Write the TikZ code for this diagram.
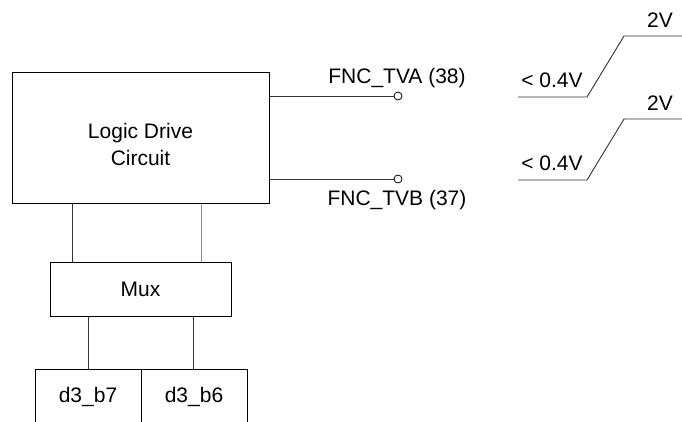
\documentclass[tikz,border=0pt]{standalone}
\usepackage{fontspec}
\setmainfont{Liberation Sans}
\usetikzlibrary{positioning,calc}
\tikzset{
  blk/.style={draw=black,line width=1pt,inner sep=0pt,align=center,fill=white},
  term/.style={circle,draw=black,line width=0.8pt,inner sep=0pt,minimum size=8pt,fill=white},
  wire/.style={draw=black!80,line width=0.9pt},
  lab/.style={inner sep=0pt,anchor=center},
}
\begin{document}
\begin{tikzpicture}[x=1pt,y=-1pt,every node/.style={font=\fontsize{21}{27}\selectfont}]
\clip (0,0) rectangle (682,421);
\node[blk,minimum width=257pt,minimum height=131pt] (ldc) at (140.5,137.5) {};
\node[lab,align=center,yshift=-7pt] (ldctxt) at (ldc.center) {Logic Drive\\Circuit};
\node[blk,minimum width=181pt,minimum height=54pt] (mux) at (140.5,289) {Mux};
\node[blk,minimum width=106pt,minimum height=56pt] (b7) at (88,397) {d3\_b7};
\node[blk,minimum width=106pt,minimum height=56pt] (b6) at (194,397) {d3\_b6};
% terminals
\node[term] (ta) at (398,96) {};
\node[term] (tb) at (398,179) {};
\node[lab] (tal) at (397,78) {FNC\_TVA (38)};
\node[lab] (tbl) at (397,200) {FNC\_TVB (37)};
\draw[wire] (ldc.east |- ta) -- (ta);
\draw[wire] (ldc.east |- tb) -- (tb);
% logic -> mux -> cells
\draw[wire] (72,0 |- ldc.south) -- (72,0 |- mux.north);
\draw[wire,draw=black!45] (201,0 |- ldc.south) -- (201,0 |- mux.north);
\draw[wire] (88,0 |- mux.south) -- (b7.north);
\draw[wire] (193,0 |- mux.south) -- (193,0 |- b6.north);
% waveforms
\foreach \dy/\nm in {0/wa,83/wb}{
  \draw[wire] (518,97+\dy) -- (587,97+\dy) -- (624,36+\dy) -- (682,36+\dy);
  \node[lab] (\nm lo) at (552,80+\dy) {< 0.4V};
  \node[lab] (\nm hi) at (660,20+\dy) {2V};
}
\end{tikzpicture}
\end{document}
